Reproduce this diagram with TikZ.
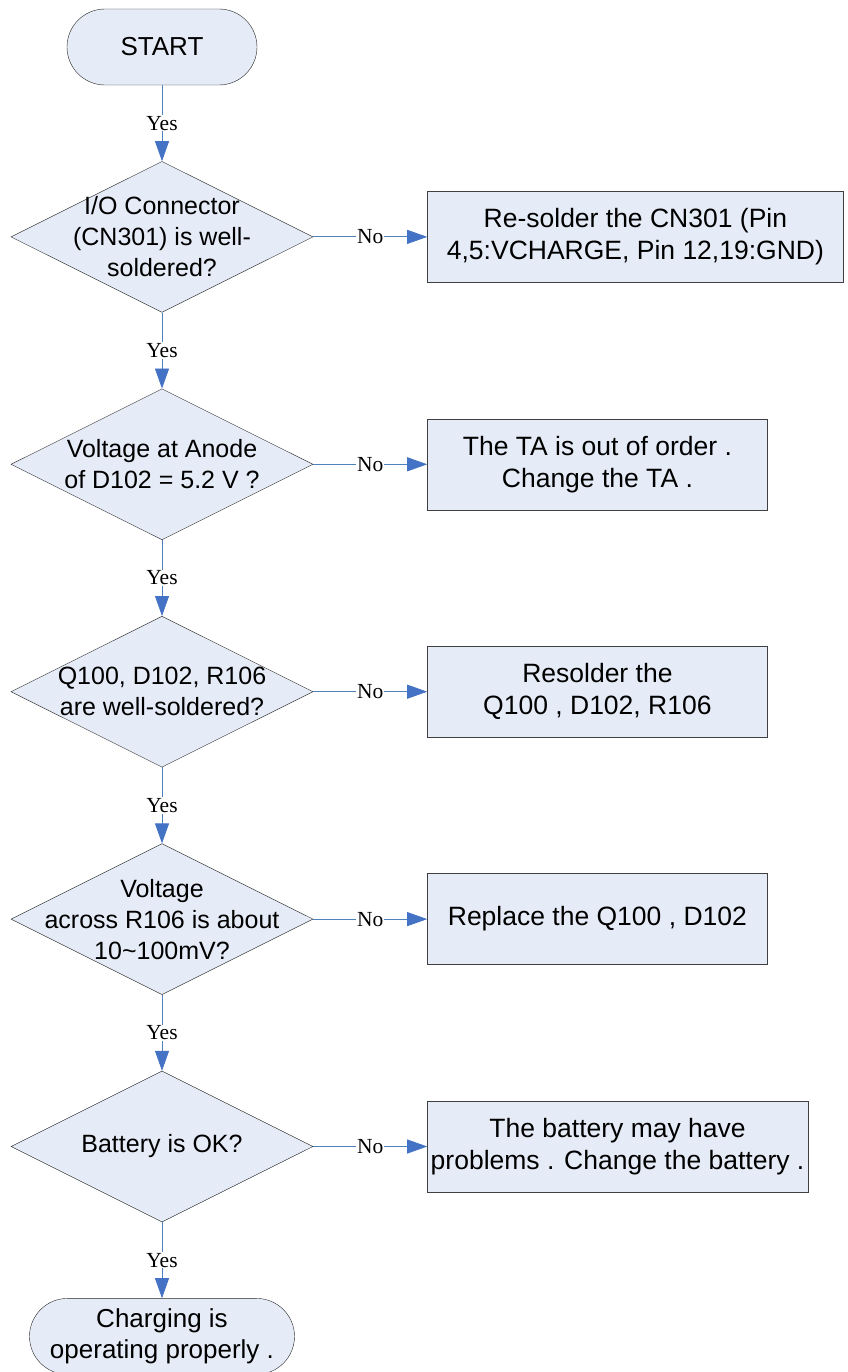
\documentclass[tikz,border=0pt]{standalone}
\usepackage{fontspec}
\setmainfont{Liberation Sans}
\newfontfamily\yesfont{Liberation Serif}
\usetikzlibrary{positioning}
\usetikzlibrary{shapes.geometric}
\usetikzlibrary{arrows.meta}

\definecolor{boxfill}{RGB}{230,236,247}
\definecolor{linkblue}{RGB}{79,129,189}
\definecolor{headblue}{RGB}{68,114,196}

\tikzset{
  term/.style={draw=black!85, fill=boxfill, rounded corners=38pt, minimum height=76pt,
    align=center, font=\fontsize{26}{31}\selectfont},
  test/.style={draw=black!85, fill=boxfill, diamond, shape aspect=2, minimum width=302pt,
    minimum height=151pt, inner sep=-30pt, align=center, font=\fontsize{25}{31}\selectfont},
  fixbox/.style={draw=black!75, fill=boxfill, rectangle, minimum height=91pt,
    align=center, font=\fontsize{26.5}{32}\selectfont},
  link/.style={draw=linkblue, line width=0.8pt, -{Triangle[length=20pt,width=14pt,color=headblue]}},
  yesno/.style={fill=white, inner sep=1pt, font=\yesfont\fontsize{21.5}{21.5}\selectfont}
}

\begin{document}
\begin{tikzpicture}[x=1pt, y=-1pt, node distance=76pt]
      % Fix the page size
      \path[use as bounding box] (0,0) rectangle (847,1372);

      % Main column of tests
      \node[term, minimum width=190pt] (start) at (162,47) {START};
      \node[test, below=of start] (d1) {I/O Connector\\(CN301) is well-\\soldered?};
      \node[test, below=of d1] (d2) {Voltage at Anode\\of D102 = 5.2 V ?};
      \node[test, below=of d2] (d3) {Q100, D102, R106\\are well-soldered?};
      \node[test, below=of d3] (d4) {Voltage\\across R106 is about\\10\textasciitilde100mV?};
      \node[test, below=of d4] (d5) {Battery is OK?};
      \node[term, minimum width=265pt, below=of d5] (finish) {Charging is\\operating properly .};

      % Repair boxes on the right
      \node[fixbox, minimum width=416pt, right=114pt of d1] (b1) {Re-solder the CN301 (Pin\\4,5:VCHARGE, Pin 12,19:GND)};
      \node[fixbox, minimum width=340pt, right=114pt of d2] (b2) {The TA is out of order .\\Change the TA .};
      \node[fixbox, minimum width=340pt, right=114pt of d3] (b3) {Resolder the\\Q100 , D102, R106};
      \node[fixbox, minimum width=340pt, right=114pt of d4] (b4) {Replace the Q100 , D102};
      \node[fixbox, minimum width=378pt, right=114pt of d5] (b5) {The battery may have\\problems . Change the battery .};

      % Connectors
      \foreach \a/\b in {start/d1,d1/d2,d2/d3,d3/d4,d4/d5,d5/finish}
        {\draw[link] (\a) -- node[yesno] {Yes} (\b);}
      \foreach \i in {1,...,5}
        {\draw[link] (d\i) -- node[yesno] {No} (b\i);}
\end{tikzpicture}
\end{document}
